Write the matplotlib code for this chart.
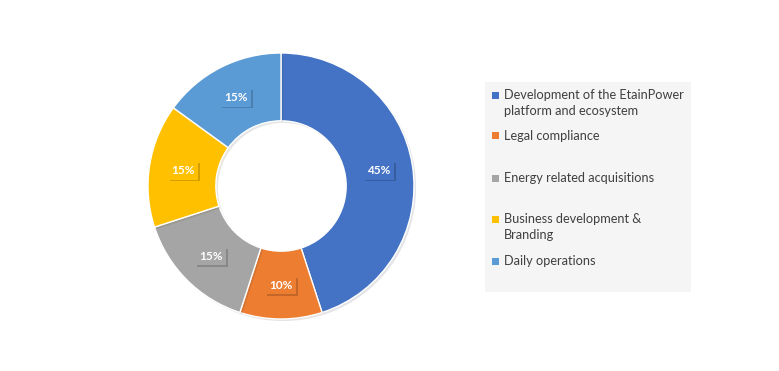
import matplotlib
matplotlib.use("Agg")
import matplotlib.pyplot as plt
import matplotlib.patheffects as pe
from matplotlib.patches import Rectangle
import numpy as np

categories = ["Development of the EtainPower\nplatform and ecosystem",
              "Legal compliance",
              "Energy related acquisitions",
              "Business development &\nBranding",
              "Daily operations"]
shares = [45, 10, 15, 15, 15]
colors = ["#4472C4", "#ED7D31", "#A5A5A5", "#FFC000", "#5B9BD5"]

plt.rcParams['font.family'] = ['Lato', 'DejaVu Sans']

fig = plt.figure(figsize=(7.79, 3.71), dpi=100)
W, H = 779, 371

# donut
ax = fig.add_axes([148 / W, (H - 319) / H, 266 / W, 266 / H])
wedges, _ = ax.pie(shares, colors=colors, startangle=90, counterclock=False,
                   radius=1.0,
                   wedgeprops=dict(width=0.51, edgecolor="white", linewidth=1.0))
for w in wedges:
    w.set_path_effects([pe.SimplePatchShadow(offset=(1.5, -1.5), alpha=0.12),
                        pe.Normal()])
ax.set_xlim(-1.0, 1.0)
ax.set_ylim(-1.0, 1.0)
ax.set_aspect("equal")
ax.axis("off")

mid_r = 1.0 - 0.51 / 2
for w, val, c in zip(wedges, shares, colors):
    ang = np.deg2rad((w.theta1 + w.theta2) / 2)
    t = ax.text(mid_r * np.cos(ang), mid_r * np.sin(ang), f"{val}%",
                ha="center", va="center", color="white", fontsize=8.5,
                fontweight="bold",
                bbox=dict(boxstyle="square,pad=0.3", facecolor=c,
                          edgecolor="none"))
    t.get_bbox_patch().set_path_effects(
        [pe.SimplePatchShadow(offset=(1.2, -1.2), alpha=0.25), pe.Normal()])

# legend panel
fig.patches.append(Rectangle((485 / W, (H - 292) / H), 206 / W, 210 / H,
                             transform=fig.transFigure, facecolor="#F5F5F5",
                             edgecolor="none", zorder=0))
item_y = [95, 136, 178, 219, 261]
for lab, c, y in zip(categories, colors, item_y):
    fig.patches.append(Rectangle((492 / W, (H - y - 3.5) / H), 7 / W, 7 / H,
                                 transform=fig.transFigure, facecolor=c,
                                 edgecolor="none"))
    fig.text(504 / W, (H - y + 6) / H, lab, ha="left", va="top",
             fontsize=9.2, color="#404040", linespacing=1.4,
             transform=fig.transFigure)

fig.savefig("out.png", dpi=100, facecolor="white")
